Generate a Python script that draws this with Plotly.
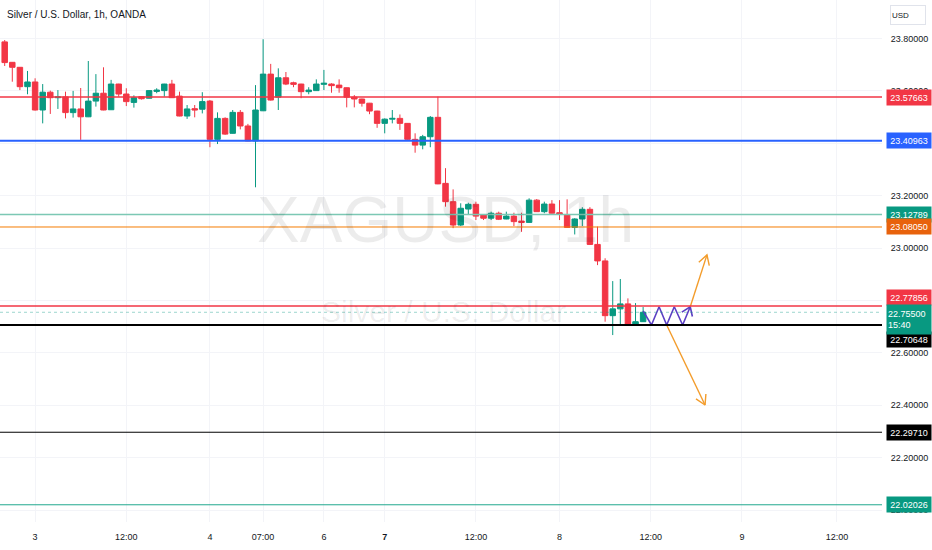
import numpy as np
import plotly.graph_objects as go

# ---------------- data ----------------
opens = [23.787, 23.709, 23.690, 23.616, 23.634, 23.527, 23.595, 23.574, 23.577, 23.517,
         23.531, 23.501, 23.561, 23.591, 23.528, 23.626, 23.588, 23.556, 23.578, 23.572,
         23.598, 23.601, 23.626, 23.580, 23.504, 23.532, 23.530, 23.561, 23.415, 23.495,
         23.438, 23.518, 23.466, 23.409, 23.524, 23.664, 23.576, 23.650, 23.631, 23.626,
         23.597, 23.601, 23.625, 23.626, 23.622, 23.612, 23.576, 23.569, 23.553, 23.523,
         23.476, 23.492, 23.495, 23.476, 23.415, 23.393, 23.425, 23.499, 23.247, 23.177,
         23.088, 23.149, 23.167, 23.126, 23.114, 23.133, 23.111, 23.122, 23.103, 23.098,
         23.183, 23.139, 23.168, 23.135, 23.126, 23.079, 23.111, 23.148, 23.014, 22.951,
         22.742, 22.768, 22.787, 22.710, 22.719]
highs = [23.794, 23.710, 23.691, 23.676, 23.648, 23.626, 23.601, 23.603, 23.597, 23.600,
         23.611, 23.714, 23.664, 23.690, 23.642, 23.627, 23.610, 23.583, 23.580, 23.603,
         23.610, 23.627, 23.642, 23.597, 23.546, 23.546, 23.595, 23.565, 23.518, 23.499,
         23.527, 23.527, 23.474, 23.622, 23.797, 23.703, 23.686, 23.672, 23.635, 23.627,
         23.614, 23.644, 23.680, 23.629, 23.644, 23.613, 23.584, 23.570, 23.554, 23.524,
         23.495, 23.527, 23.510, 23.477, 23.438, 23.432, 23.504, 23.578, 23.305, 23.224,
         23.171, 23.173, 23.177, 23.127, 23.139, 23.139, 23.139, 23.135, 23.135, 23.190,
         23.187, 23.177, 23.183, 23.183, 23.186, 23.114, 23.156, 23.156, 23.082, 22.961,
         22.874, 22.882, 22.808, 22.790, 22.775]
lows = [23.695, 23.635, 23.603, 23.587, 23.525, 23.476, 23.512, 23.531, 23.495, 23.498,
        23.413, 23.500, 23.540, 23.526, 23.527, 23.578, 23.542, 23.536, 23.567, 23.571,
        23.591, 23.578, 23.573, 23.503, 23.493, 23.499, 23.514, 23.385, 23.397, 23.432,
        23.437, 23.453, 23.408, 23.232, 23.523, 23.563, 23.527, 23.622, 23.614, 23.572,
        23.587, 23.600, 23.603, 23.593, 23.593, 23.537, 23.537, 23.540, 23.511, 23.459,
        23.438, 23.476, 23.451, 23.413, 23.364, 23.377, 23.385, 23.244, 23.158, 23.076,
        23.084, 23.130, 23.107, 23.107, 23.107, 23.107, 23.110, 23.084, 23.062, 23.097,
        23.138, 23.133, 23.132, 23.107, 23.078, 23.052, 23.084, 23.013, 22.935, 22.719,
        22.668, 22.710, 22.708, 22.708, 22.718]
closes = [23.708, 23.690, 23.616, 23.634, 23.527, 23.595, 23.574, 23.577, 23.517, 23.531,
          23.501, 23.561, 23.591, 23.527, 23.626, 23.588, 23.559, 23.574, 23.570, 23.601,
          23.603, 23.626, 23.574, 23.504, 23.531, 23.527, 23.559, 23.415, 23.495, 23.435,
          23.518, 23.466, 23.409, 23.527, 23.664, 23.565, 23.650, 23.626, 23.625, 23.597,
          23.603, 23.626, 23.629, 23.620, 23.612, 23.576, 23.569, 23.553, 23.523, 23.476,
          23.492, 23.495, 23.476, 23.415, 23.393, 23.425, 23.499, 23.245, 23.177, 23.088,
          23.152, 23.167, 23.122, 23.114, 23.133, 23.110, 23.122, 23.101, 23.098, 23.183,
          23.139, 23.168, 23.133, 23.129, 23.079, 23.111, 23.148, 23.014, 22.951, 22.742,
          22.768, 22.787, 22.710, 22.719, 22.755]
bar_index = list(range(len(opens)))

tick_vals = [4, 16, 27, 34, 42, 50, 62, 73, 85, 97, 109.5]
tick_text = ["3", "12:00", "4", "07:00", "6", "<b>7</b>", "12:00", "8", "12:00", "9", "12:00"]

price_ticks = [22.0, 22.2, 22.4, 22.6, 22.8, 23.0, 23.2, 23.4, 23.6, 23.8]
price_tick_text = ["22.00000", "22.20000", "22.40000", "22.60000", "", "23.00000", "23.20000",
                   "", "23.60000", "23.80000"]

levels = [23.57663, 23.40963, 23.12789, 23.08050, 22.77856, 22.70648, 22.29710, 22.02026]
last_price = 22.75500
countdown = "15:40"

# drawing anchors (bar index, price)
zig_x = [84.0, 85.1, 86.1, 87.1, 88.1, 89.2, 90.2]
zig_y = [22.760, 22.7064, 22.776, 22.7064, 22.776, 22.7064, 22.776]
up_arrow = [(90.2, 22.776), (92.4, 22.974)]
down_arrow = [(87.1, 22.7064), (92.15, 22.401)]

# ---------------- styles ----------------
UP = "#089981"
DOWN = "#F23645"
level_line_colors = ["#F23645", "#2962FF", "#7CC8B4", "#F57C00", "#F23645", "#000000", "#000000", "#22A88E"]
level_line_widths = [1.5, 2, 1.5, 1, 1.5, 2, 1, 1]
level_box_colors = ["#F23645", "#2962FF", "#089981", "#E8620C", "#F23645", "#000000", "#000000", "#089981"]
level_box_shift = [0, 0, 0, 0, 9, -15, 0, 0]

FONT = "Liberation Sans, Arial, sans-serif"
W, H = 932, 550
ML, MR, MT, MB = 0, 50, 0, 28
PW, PH = W - ML - MR, H - MT - MB
x_range = [-0.618, 115.43]
y_range = [21.9545, 23.94685]
sx = PW / (x_range[1] - x_range[0])
sy = PH / (y_range[1] - y_range[0])

fig = go.Figure()

fig.add_trace(go.Candlestick(
    x=bar_index, open=opens, high=highs, low=lows, close=closes,
    increasing=dict(line=dict(color=UP, width=1), fillcolor=UP),
    decreasing=dict(line=dict(color=DOWN, width=1), fillcolor=DOWN),
    whiskerwidth=0, showlegend=False, hoverinfo="skip"))

shapes = []
for v, c, w in zip(levels, level_line_colors, level_line_widths):
    shapes.append(dict(type="line", xref="paper", x0=0, x1=1, yref="y", y0=v, y1=v,
                       line=dict(color=c, width=w), layer="above"))
shapes.append(dict(type="line", xref="paper", x0=0, x1=1, yref="y", y0=last_price, y1=last_price,
                   line=dict(color="rgba(8,153,129,0.4)", width=1, dash="dot"), layer="above"))


def head(tail, tip, length=11, ang=32):
    tx, ty = tip[0] * sx, tip[1] * sy
    bx, by = tail[0] * sx, tail[1] * sy
    dx, dy = tx - bx, ty - by
    d = np.hypot(dx, dy)
    ux, uy = dx / d, dy / d
    xs, ys = [], []
    for s in (1, -1):
        a = np.radians(ang) * s
        rx = ux * np.cos(a) - uy * np.sin(a)
        ry = ux * np.sin(a) + uy * np.cos(a)
        xs.append((tx - length * rx) / sx)
        ys.append((ty - length * ry) / sy)
    return [xs[0], tip[0], xs[1]], [ys[0], tip[1], ys[1]]


# purple zigzag
fig.add_trace(go.Scatter(x=zig_x, y=zig_y, mode="lines", line=dict(color="#5B3FC4", width=1.6),
                         showlegend=False, hoverinfo="skip"))
hx, hy = head((zig_x[-2], zig_y[-2]), (zig_x[-1], zig_y[-1]), length=10, ang=35)
fig.add_trace(go.Scatter(x=hx, y=hy, mode="lines", line=dict(color="#5B3FC4", width=1.6),
                         showlegend=False, hoverinfo="skip"))
# orange arrows
for arr in (up_arrow, down_arrow):
    fig.add_trace(go.Scatter(x=[arr[0][0], arr[1][0]], y=[arr[0][1], arr[1][1]], mode="lines",
                             line=dict(color="#F39C2B", width=1.4), showlegend=False, hoverinfo="skip"))
    hx, hy = head(arr[0], arr[1], length=11, ang=30)
    fig.add_trace(go.Scatter(x=hx, y=hy, mode="lines", line=dict(color="#F39C2B", width=1.4),
                             showlegend=False, hoverinfo="skip"))

annotations = []
# watermarks
annotations.append(dict(text="XAGUSD, 1h", xref="paper", yref="paper", x=445 / PW, y=1 - 220 / PH,
                        xanchor="center", yanchor="middle", showarrow=False,
                        font=dict(family=FONT, size=64, color="rgba(0,0,0,0.075)")))
annotations.append(dict(text="Silver / U.S. Dollar", xref="paper", yref="paper", x=443 / PW, y=1 - 311 / PH,
                        xanchor="center", yanchor="middle", showarrow=False,
                        font=dict(family=FONT, size=30, color="rgba(0,0,0,0.075)")))
# title
annotations.append(dict(text="Silver / U.S. Dollar, 1h, OANDA", xref="paper", yref="paper",
                        x=5 / PW, y=1 - 14 / PH, xanchor="left", yanchor="middle", showarrow=False,
                        font=dict(family=FONT, size=10, color="#131722")))
# USD box
annotations.append(dict(text="USD", xref="paper", yref="paper", x=1, y=1, xanchor="left", yanchor="top",
                        xshift=8, yshift=-5, showarrow=False, align="left", width=32, height=16,
                        bordercolor="#E0E3EB", borderwidth=1, bgcolor="white",
                        font=dict(family=FONT, size=8, color="#131722")))
# level price boxes
for v, c, s in zip(levels, level_box_colors, level_box_shift):
    annotations.append(dict(text=f"{v:.5f}", xref="paper", yref="y", x=1, y=v, xanchor="left",
                            yanchor="middle", xshift=4, yshift=s, showarrow=False, width=42, height=13,
                            bgcolor=c, borderpad=1, font=dict(family=FONT, size=9, color="white")))
# last price box
annotations.append(dict(text=f"{last_price:.5f}<br>{countdown}", xref="paper", yref="y", x=1, y=last_price,
                        xanchor="left", yanchor="middle", xshift=4, yshift=-7, showarrow=False,
                        width=42, height=27, bgcolor=UP, borderpad=1, align="left",
                        font=dict(family=FONT, size=9, color="white")))

fig.update_layout(
    width=W, height=H, margin=dict(l=ML, r=MR, t=MT, b=MB),
    paper_bgcolor="white", plot_bgcolor="white",
    shapes=shapes, annotations=annotations,
    boxgap=0.1, boxgroupgap=0.2,
    font=dict(family=FONT, color="#131722"),
    xaxis=dict(range=x_range, tickvals=tick_vals, ticktext=tick_text, showgrid=True,
               gridcolor="#F3F4F8", zeroline=False, showline=False, ticks="outside", ticklen=6,
               tickcolor="rgba(0,0,0,0)", tickfont=dict(family=FONT, size=9, color="#131722"),
               rangeslider=dict(visible=False), fixedrange=True),
    yaxis=dict(range=y_range, side="right", tickvals=price_ticks, ticktext=price_tick_text,
               showgrid=True, gridcolor="#F3F4F8",
               zeroline=False, showline=False, ticks="outside", ticklen=6, tickcolor="rgba(0,0,0,0)",
               tickfont=dict(family=FONT, size=9, color="#131722"), fixedrange=True),
)

fig.write_html("out.html", config={"displayModeBar": False, "staticPlot": True},
               post_script="document.body.style.margin='0';document.body.style.overflow='hidden';")
